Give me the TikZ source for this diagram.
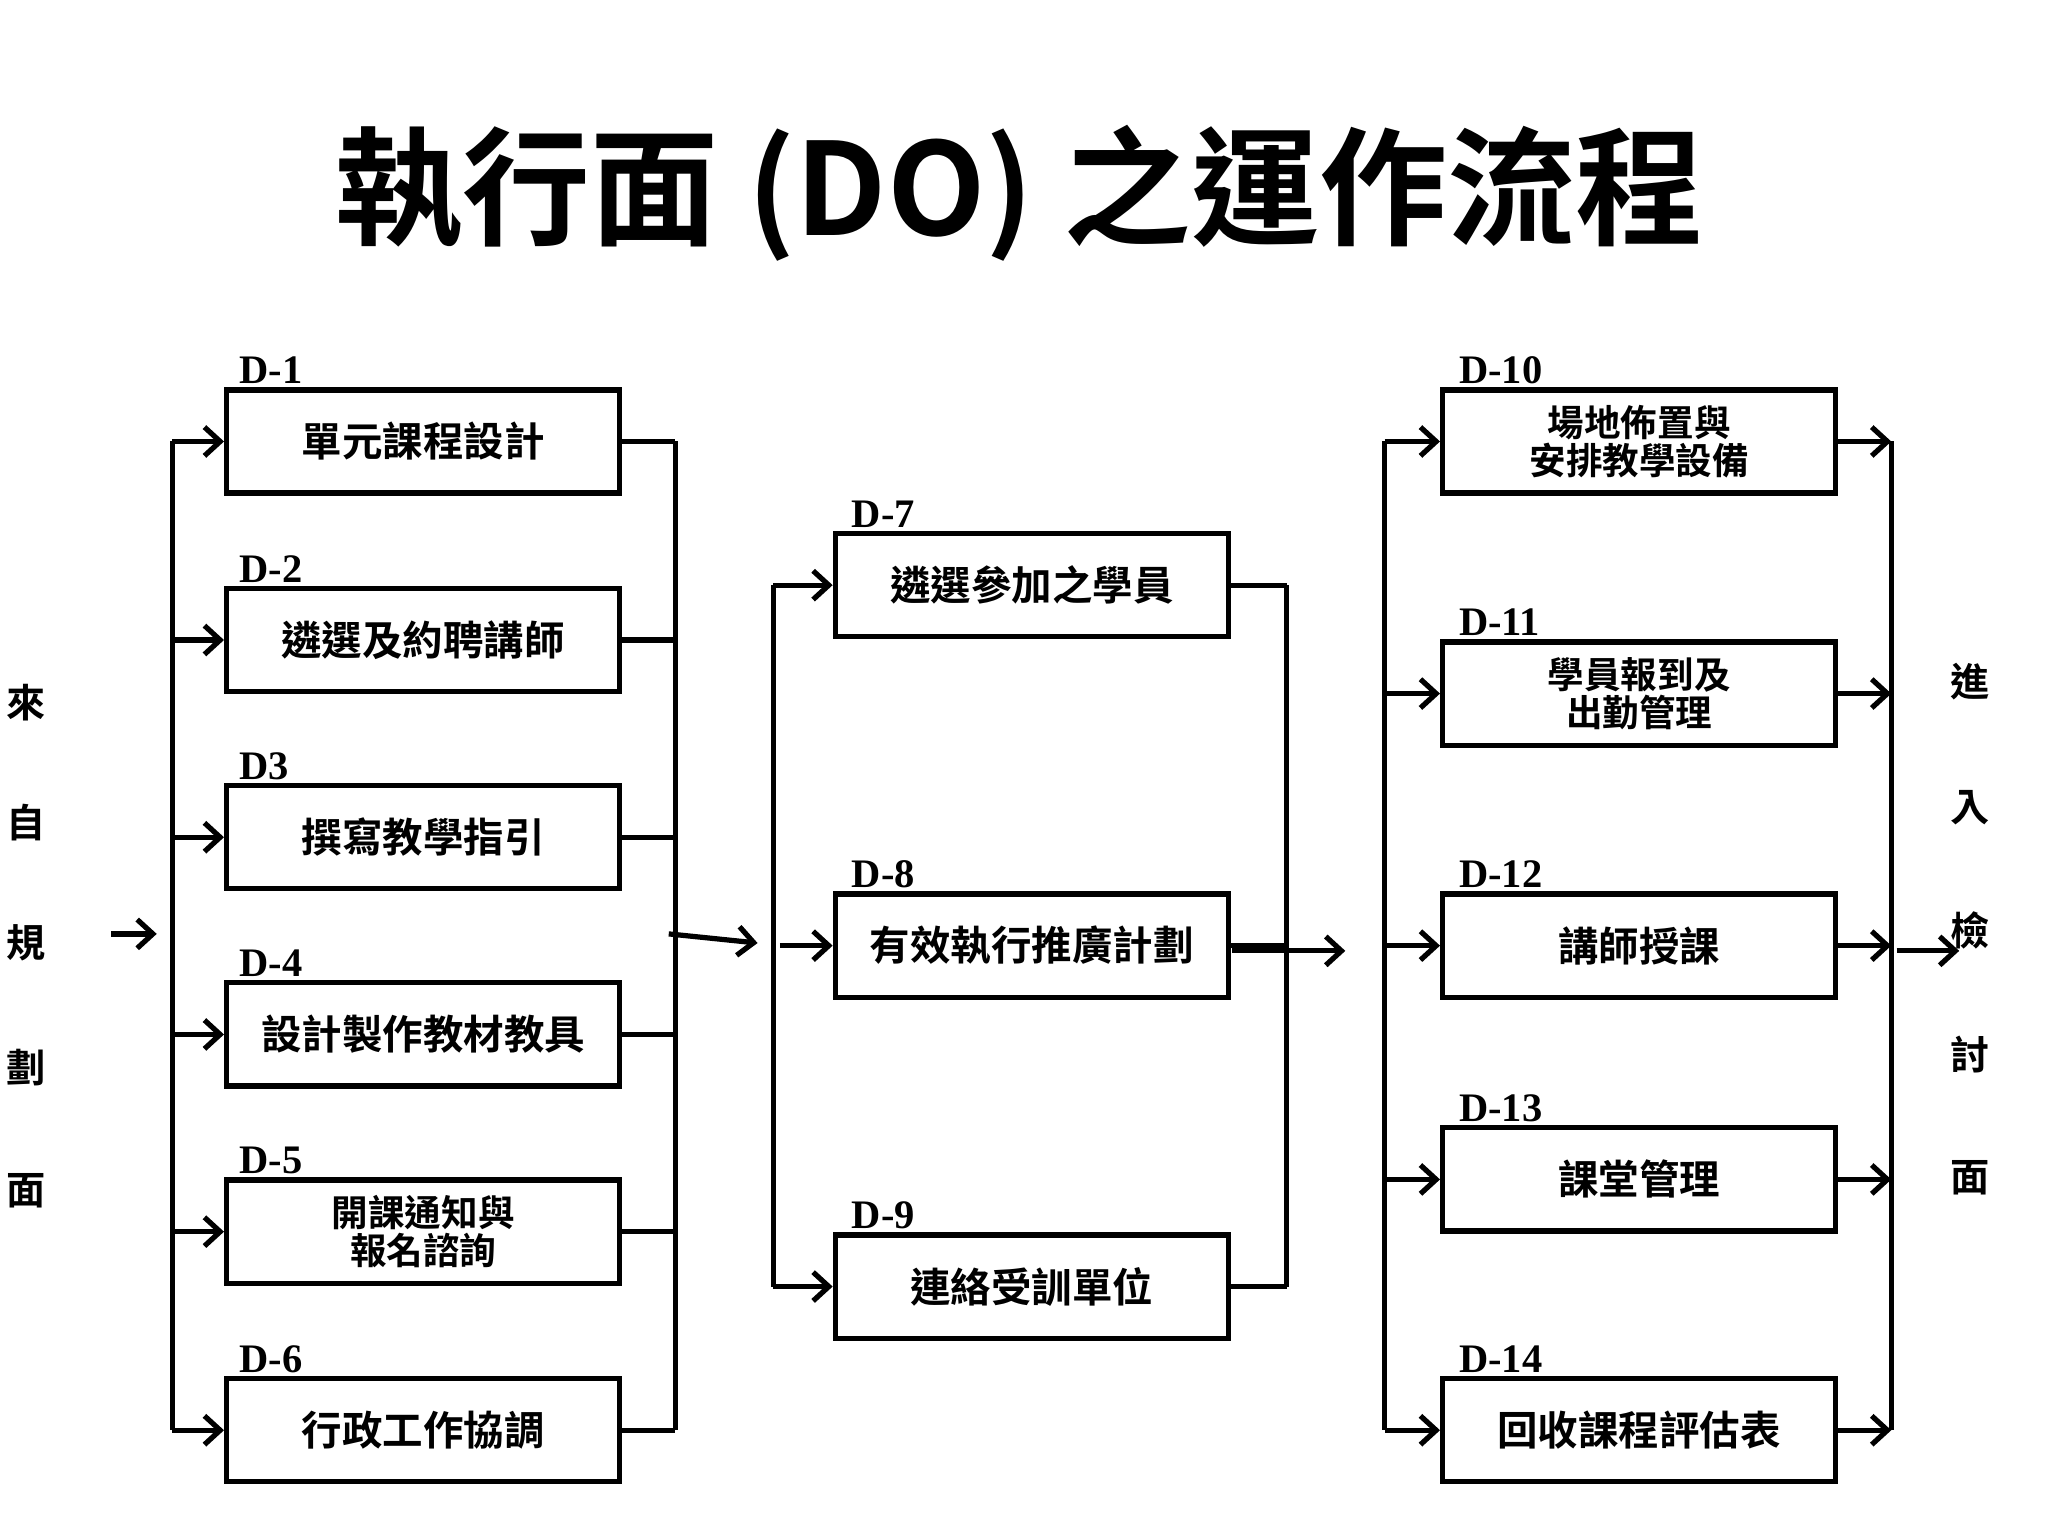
\documentclass[tikz,border=0pt]{standalone}
\usepackage{fontspec}
\usetikzlibrary{arrows.meta}
\newfontfamily\cjk{Noto Sans CJK TC}[BoldFont={Noto Sans CJK TC Bold}]
\newfontfamily\lab{Liberation Serif}
\begin{document}
\begin{tikzpicture}[x=1pt,y=-1pt,
 bx/.style={draw,line width=4pt,minimum width=301pt,minimum height=79pt,inner sep=0pt,font=\cjk\bfseries\fontsize{31}{30}\selectfont,align=center},
 bx2/.style={bx,font=\cjk\bfseries\fontsize{28}{29}\selectfont},
 lb/.style={anchor=south west,inner sep=0pt,font=\lab\bfseries\fontsize{31}{31}\selectfont},
 ln/.style={line width=4pt},
 ar/.style={line width=4pt,-{Straight Barb[length=12pt,width=22pt,line width=4pt]}},
 sd/.style={font=\cjk\bfseries\fontsize{30}{30}\selectfont}]
\useasboundingbox (0,0) rectangle (1568,1176);
\node[font=\cjk\bfseries\fontsize{98}{98}\selectfont] (t) at (780,148) {執行面 (DO) 之運作流程};
% left column
\foreach \n/\y/\l/\txt/\s in {1/338/D-1/單元課程設計/bx,2/490/D-2/遴選及約聘講師/bx,3/641/D3/撰寫教學指引/bx,4/792/D-4/設計製作教材教具/bx,5/943/D-5/{開課通知與\\報名諮詢}/bx2,6/1095/D-6/行政工作協調/bx}{
 \node[\s] (L\n) at (324,\y) {\txt};
 \node[lb] at (183,\y-44) {\l};
 \coordinate (la\n) at (132,\y);
 \coordinate (lb\n) at (517,\y);
 \draw[ar] (la\n) -- (L\n.west);
 \draw[ln] (L\n.east) -- (lb\n);
}
\draw[ln] (la1) -- (la6);
\draw[ln] (lb1) -- (lb6);
% middle column
\foreach \n/\y/\l/\txt in {7/448/D-7/遴選參加之學員,8/724/D-8/有效執行推廣計劃,9/985/D-9/連絡受訓單位}{
 \node[bx] (M\n) at (790,\y) {\txt};
 \node[lb] at (652,\y-44) {\l};
 \coordinate (ma\n) at (592,\y);
 \coordinate (mb\n) at (985,\y);
 \draw[ln] (M\n.east) -- (mb\n);
}
\draw[ar] (ma7) -- (M7.west);
\draw[ar] (ma9) -- (M9.west);
\coordinate (m8s) at (597,724);
\draw[ar] (m8s) -- (M8.west);
\draw[ln] (ma7) -- (ma9);
\draw[ln] (mb7) -- (mb9);
% right column
\foreach \n/\y/\l/\txt/\s in {10/338/D-10/{場地佈置與\\安排教學設備}/bx2,11/531/D-11/{學員報到及\\出勤管理}/bx2,12/724/D-12/講師授課/bx,13/903/D-13/課堂管理/bx,14/1095/D-14/回收課程評估表/bx}{
 \node[\s] (R\n) at (1255,\y) {\txt};
 \node[lb] at (1117,\y-44) {\l};
 \coordinate (ra\n) at (1060,\y);
 \coordinate (rb\n) at (1448,\y);
 \draw[ar] (ra\n) -- (R\n.west);
 \draw[ar] (R\n.east) -- (rb\n);
}
\draw[ln] (ra10) -- (ra14);
\draw[ln] (rb10) -- (rb14);
% connecting arrows
\coordinate (a1) at (85,715); \coordinate (a2) at (120,715);
\draw[ar] (a1) -- (a2);
\coordinate (b1) at (512,715); \coordinate (b2) at (580,722);
\draw[ar] (b1) -- (b2);
\coordinate (c1) at (943,728); \coordinate (c2) at (1030,728);
\draw[ar] (c1) -- (c2);
\coordinate (d1) at (1452,728); \coordinate (d2) at (1500,728);
\draw[ar] (d1) -- (d2);
% side texts
\foreach \c/\y in {來/538,自/630,規/722,劃/817,面/912} \node[sd] at (20,\y) {\c};
\foreach \c/\y in {進/522,入/618,檢/712,討/807,面/902} \node[sd] at (1508,\y) {\c};
\end{tikzpicture}
\end{document}
